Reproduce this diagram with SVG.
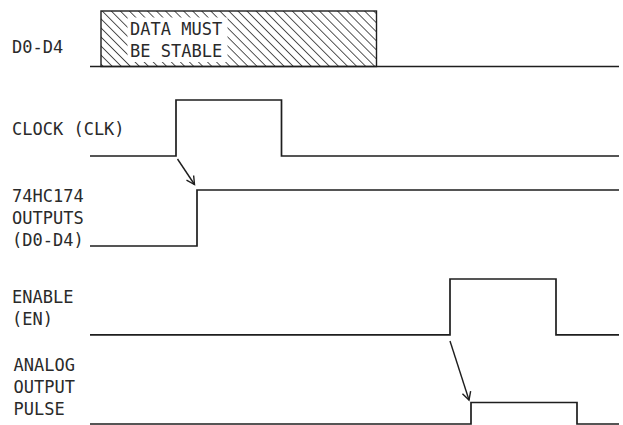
<svg xmlns="http://www.w3.org/2000/svg" width="623" height="425" viewBox="0 0 623 425">
<style>
.sig{fill:none;stroke:#1e1e1e;stroke-width:1.7;stroke-linejoin:miter}
.lbl{font-family:"DejaVu Sans Mono","Liberation Mono",monospace;font-size:17px;fill:#2a2a2a}
.arr{fill:none;stroke:#1e1e1e;stroke-width:1.4}
</style>
<defs>
<pattern id="hatch" patternUnits="userSpaceOnUse" width="6.4" height="6.4" patternTransform="rotate(-45)">
<line x1="0" y1="-1" x2="0" y2="8" stroke="#1e1e1e" stroke-width="1.5"/>
</pattern>
<marker id="vhead" markerUnits="userSpaceOnUse" markerWidth="12" markerHeight="12" refX="0" refY="0" viewBox="-10 -6 12 12" orient="auto">
<path d="M-8,-4.3 L0,0 L-8,4.3" fill="none" stroke="#1e1e1e" stroke-width="1.4"/>
</marker>
</defs>
<rect width="623" height="425" fill="#ffffff"/>

<g id="d0d4">
<text class="lbl" x="12" y="53">D0-D4</text>
<rect x="101" y="11" width="275.5" height="55.5" fill="url(#hatch)" stroke="#1e1e1e" stroke-width="1.4"/>
<rect x="127.5" y="17.5" width="100" height="44.5" fill="#ffffff"/>
<text class="lbl" x="130" y="35">DATA MUST</text>
<text class="lbl" x="130" y="57.3">BE STABLE</text>
<path class="sig" d="M90,66.5 H619"/>
</g>

<g id="clock">
<text class="lbl" x="12" y="135">CLOCK (CLK)</text>
<path class="sig" d="M90,156 H176 V100 H281.5 V156 H619"/>
</g>

<g id="outputs">
<text class="lbl" x="12" y="202">74HC174</text>
<text class="lbl" x="12" y="224">OUTPUTS</text>
<text class="lbl" x="12" y="246">(D0-D4)</text>
<path class="sig" d="M90,246 H197 V190 H619"/>
</g>

<g id="enable">
<text class="lbl" x="12" y="302.7">ENABLE</text>
<text class="lbl" x="12" y="324.7">(EN)</text>
<path class="sig" d="M90,334.8 H450 V279 H556 V334.8 H619"/>
</g>

<g id="analog">
<text class="lbl" x="13.5" y="371">ANALOG</text>
<text class="lbl" x="13.5" y="393">OUTPUT</text>
<text class="lbl" x="13.5" y="415">PULSE</text>
<path class="sig" d="M90,424 H471 V402.5 H577 V424 H619"/>
</g>

<g id="connectors">
<line class="arr" x1="177.5" y1="159" x2="194.5" y2="184.5" marker-end="url(#vhead)"/>
<line class="arr" x1="450" y1="341" x2="469" y2="400" marker-end="url(#vhead)"/>
</g>
</svg>
